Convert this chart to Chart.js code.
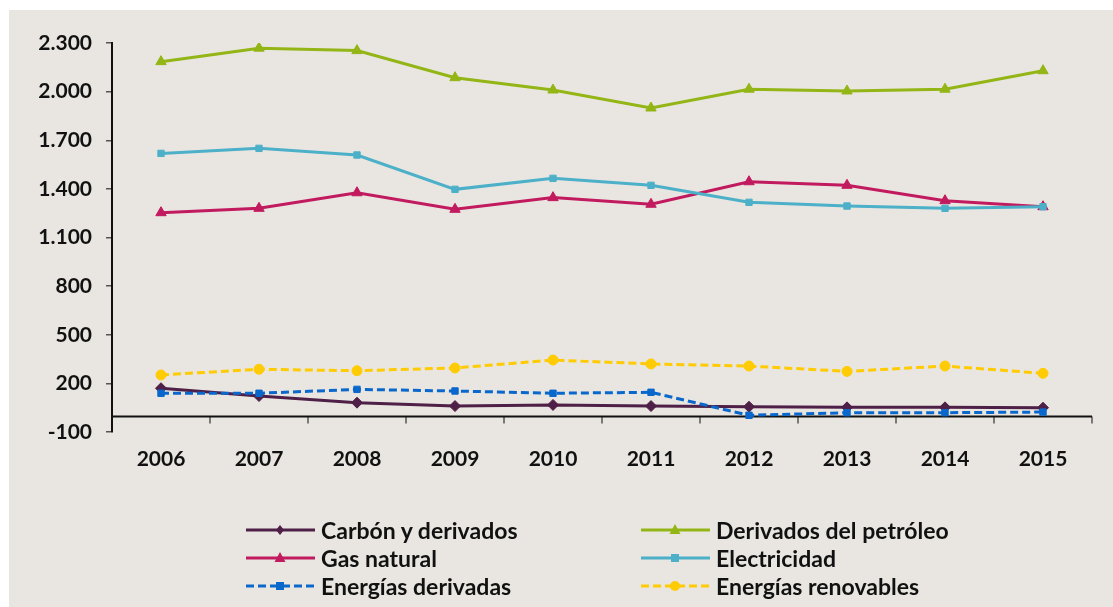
<!DOCTYPE html>
<html lang="es">
<head>
    <meta charset="UTF-8">
    <title>Consumo de energía final por fuente 2006-2015</title>
    <script src="https://cdn.jsdelivr.net/npm/chart.js"></script>
    <style>
        body {
            margin: 0;
            background: #ffffff;
            font-family: Lato, "Open Sans", sans-serif;
        }
        #frame {
            position: absolute;
            left: 9px;
            top: 10px;
            width: 1104px;
            height: 597px;
            background: #e9e6e1;
        }
        #chartBox {
            position: absolute;
            left: 0;
            top: 0;
            width: 1113px;
            height: 500px;
        }
        #legend {
            position: absolute;
            left: 0;
            top: 0;
            width: 1113px;
            height: 607px;
            pointer-events: none;
        }
        .legend-item {
            position: absolute;
            display: flex;
            align-items: center;
            height: 28px;
            font-weight: bold;
            font-size: 23px;
            color: #111;
            white-space: nowrap;
        }
        .legend-item svg {
            margin-right: 6px;
        }
    </style>
</head>
<body>
    <div id="frame"></div>
    <div id="chartBox"><canvas id="energyChart"></canvas></div>
    <div id="legend"></div>

    <script>
        const years = ['2006', '2007', '2008', '2009', '2010', '2011', '2012', '2013', '2014', '2015'];

        const carbon = [170, 122, 81, 60, 67, 60, 56, 52, 52, 50];
        const petroleo = [2185, 2268, 2253, 2086, 2010, 1899, 2015, 2004, 2015, 2129];
        const gasNatural = [1253, 1280, 1376, 1274, 1346, 1305, 1444, 1422, 1327, 1290];
        const electricidad = [1619, 1650, 1609, 1397, 1465, 1422, 1317, 1294, 1280, 1290];
        const derivadas = [139, 139, 163, 153, 139, 145, 3, 19, 19, 23];
        const renovables = [252, 287, 278, 295, 344, 320, 307, 274, 307, 262];

        const yMin = -100;
        const yMax = 2300;
        const yStep = 300;

        const series = [
            { label: 'Carbón y derivados', data: carbon, color: '#4e1f47', point: 'rectRot', radius: 5.5, dash: [] },
            { label: 'Derivados del petróleo', data: petroleo, color: '#93b516', point: 'triangle', radius: 6, dash: [] },
            { label: 'Gas natural', data: gasNatural, color: '#c21a5e', point: 'triangle', radius: 6, dash: [] },
            { label: 'Electricidad', data: electricidad, color: '#4cb0c9', point: 'rect', radius: 4.5, dash: [] },
            { label: 'Energías derivadas', data: derivadas, color: '#0a67cb', point: 'rect', radius: 4.5, dash: [8, 4] },
            { label: 'Energías renovables', data: renovables, color: '#ffcb05', point: 'circle', radius: 5, dash: [8, 4] }
        ];

        // thousands with a dot, as in "2.300"
        function formatNumber(v) {
            const s = String(Math.abs(v)).replace(/\B(?=(\d{3})+(?!\d))/g, '.');
            return v < 0 ? '-' + s : s;
        }

        // horizontal axis line at zero, with tick marks between the years
        const zeroAxis = {
            id: 'zeroAxis',
            beforeDatasetsDraw(chart) {
                const { ctx, chartArea, scales } = chart;
                const y0 = Math.round(scales.y.getPixelForValue(0)) + 0.5;
                const step = (chartArea.right - chartArea.left) / years.length;
                ctx.save();
                ctx.strokeStyle = '#555';
                ctx.lineWidth = 1.5;
                for (let i = 1; i <= years.length; i++) {
                    const x = Math.round(chartArea.left + i * step);
                    ctx.beginPath();
                    ctx.moveTo(x, y0);
                    ctx.lineTo(x, y0 + 7);
                    ctx.stroke();
                }
                ctx.strokeStyle = '#111';
                ctx.lineWidth = 2;
                ctx.beginPath();
                ctx.moveTo(chartArea.left, y0);
                ctx.lineTo(chartArea.right, y0);
                ctx.stroke();
                ctx.restore();
            }
        };

        const ctx = document.getElementById('energyChart').getContext('2d');
        const chart = new Chart(ctx, {
            type: 'line',
            data: {
                labels: years,
                datasets: series.map((s, i) => ({
                    label: s.label,
                    data: s.data,
                    borderColor: s.color,
                    backgroundColor: s.color,
                    borderWidth: 3,
                    borderDash: s.dash,
                    pointStyle: s.point,
                    pointRadius: s.radius,
                    pointBorderWidth: 1,
                    pointHoverRadius: s.radius,
                    tension: 0,
                    order: -i
                }))
            },
            options: {
                responsive: true,
                maintainAspectRatio: false,
                animation: false,
                layout: {
                    padding: { left: 12, right: 21, top: 43, bottom: 0 }
                },
                plugins: {
                    legend: { display: false },
                    tooltip: { enabled: false }
                },
                scales: {
                    x: {
                        offset: true,
                        grid: { display: false, drawTicks: false },
                        border: { display: false },
                        ticks: {
                            padding: 15,
                            color: '#111',
                            font: { family: 'Lato', size: 21, weight: 'bold' }
                        },
                        afterFit(scale) { scale.height = 68; }
                    },
                    y: {
                        min: yMin,
                        max: yMax,
                        grid: {
                            drawOnChartArea: false,
                            drawTicks: true,
                            tickLength: 6,
                            color: '#555',
                            lineWidth: 1.5
                        },
                        border: { display: true, color: '#111', width: 2 },
                        ticks: {
                            stepSize: yStep,
                            padding: 14,
                            color: '#111',
                            font: { family: 'Lato', size: 21, weight: 'bold' },
                            callback: v => formatNumber(v)
                        },
                        afterFit(scale) { scale.width = 100; }
                    }
                }
            },
            plugins: [zeroAxis]
        });

        // legend in two columns, line + marker swatch
        function markerSvg(s) {
            const cx = 34, cy = 7;
            const dash = s.dash.length ? ` stroke-dasharray="${s.dash.join(' ')}"` : '';
            let mark;
            if (s.point === 'triangle') {
                mark = `<polygon points="${cx},${cy - 6} ${cx + 5.5},${cy + 4} ${cx - 5.5},${cy + 4}" fill="${s.color}"/>`;
            } else if (s.point === 'rect') {
                mark = `<rect x="${cx - 4}" y="${cy - 4}" width="8" height="8" fill="${s.color}"/>`;
            } else if (s.point === 'rectRot') {
                mark = `<polygon points="${cx},${cy - 5} ${cx + 4},${cy} ${cx},${cy + 5} ${cx - 4},${cy}" fill="${s.color}"/>`;
            } else {
                mark = `<circle cx="${cx}" cy="${cy}" r="5" fill="${s.color}"/>`;
            }
            return `<svg width="69" height="14" viewBox="0 0 69 14">` +
                `<line x1="0" y1="${cy}" x2="69" y2="${cy}" stroke="${s.color}" stroke-width="3"${dash}/>` +
                mark + `</svg>`;
        }

        const legendCols = [246, 641];
        const legendRows = [516, 544, 572];
        const legendDiv = document.getElementById('legend');
        series.forEach((s, i) => {
            const item = document.createElement('div');
            item.className = 'legend-item';
            item.style.left = legendCols[i % 2] + 'px';
            item.style.top = legendRows[Math.floor(i / 2)] + 'px';
            item.innerHTML = markerSvg(s) + `<span>${s.label}</span>`;
            legendDiv.appendChild(item);
        });
    </script>
</body>
</html>
